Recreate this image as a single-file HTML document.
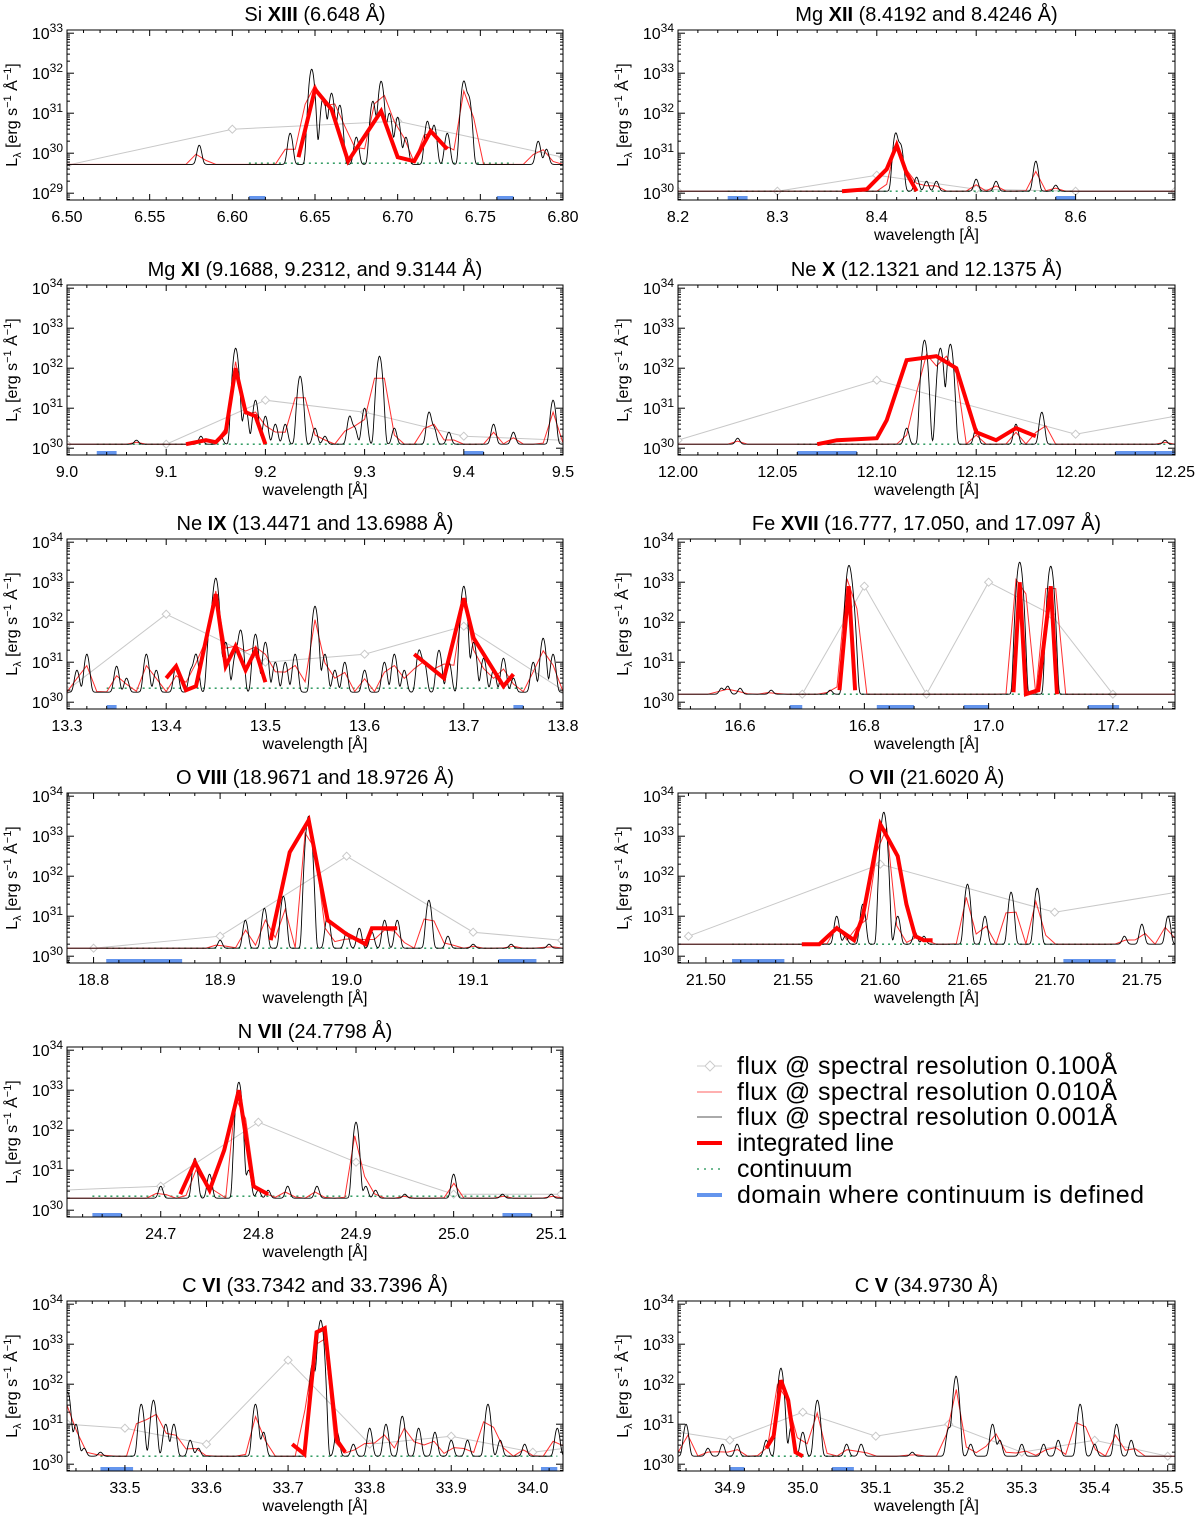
<!DOCTYPE html>
<html><head><meta charset="utf-8">
<style>
html,body{margin:0;padding:0;background:#fff;}
svg{display:block;font-family:"Liberation Sans",sans-serif;}
</style></head>
<body>
<svg id="fig" width="1200" height="1518" viewBox="0 0 1200 1518" xmlns="http://www.w3.org/2000/svg"></svg>
<script>
// ---- data (wavelength Å, log10 L) ----
const p1Peaks=[[6.58,30.2],[6.635,30.5],[6.648,32.1],[6.655,31.4],[6.66,31.5],[6.665,31.2],[6.675,30.4],[6.685,31.3],[6.69,31.8],[6.695,31.0],[6.70,30.9],[6.705,30.4],[6.718,30.8],[6.722,30.7],[6.73,30.5],[6.74,31.8],[6.743,31.4],[6.785,30.3],[6.79,30.1]];
const p1Thick=[[6.64,29.9],[6.65,31.6],[6.66,31.1],[6.67,29.8],[6.69,31.05],[6.70,29.9],[6.71,29.8],[6.72,30.55],[6.73,30.1]];
const p1Gray=[[6.5,29.7],[6.6,30.6],[6.7,30.8],[6.8,29.9]];
const p1Blue=[[6.61,6.62],[6.76,6.77]];

const p2Peaks=[[8.419,31.5],[8.424,31.2],[8.44,30.4],[8.45,30.3],[8.46,30.3],[8.5,30.35],[8.52,30.3],[8.56,30.8],[8.58,30.2]];
const p2Thick=[[8.365,30.05],[8.39,30.1],[8.41,30.6],[8.42,31.2],[8.43,30.5],[8.44,30.05]];
const p2Gray=[[8.2,30.05],[8.3,30.05],[8.4,30.45],[8.5,30.1],[8.6,30.05],[8.7,30.05]];
const p2Blue=[[8.25,8.27],[8.58,8.6]];

const p3Peaks=[[9.07,30.2],[9.135,30.3],[9.155,30.3],[9.17,32.5],[9.18,31.0],[9.19,31.2],[9.2,30.8],[9.21,30.6],[9.22,30.6],[9.235,31.8],[9.25,30.5],[9.26,30.3],[9.285,30.8],[9.29,30.5],[9.3,31.0],[9.315,32.3],[9.33,30.5],[9.365,30.9],[9.37,30.5],[9.385,30.4],[9.43,30.6],[9.45,30.4],[9.49,31.2]];
const p3Thick=[[9.12,30.1],[9.14,30.2],[9.15,30.15],[9.16,30.4],[9.17,32.0],[9.18,30.9],[9.19,30.8],[9.2,30.1]];
const p3Gray=[[9.0,30.1],[9.1,30.1],[9.2,31.2],[9.3,30.9],[9.4,30.3],[9.5,30.2]];
const p3Blue=[[9.03,9.05],[9.4,9.42]];

const p4Peaks=[[12.03,30.25],[12.115,30.5],[12.124,32.7],[12.132,32.5],[12.137,32.6],[12.15,30.5],[12.17,30.6],[12.183,30.9],[12.245,30.2]];
const p4Thick=[[12.07,30.1],[12.08,30.2],[12.1,30.25],[12.105,30.7],[12.115,32.2],[12.13,32.3],[12.14,32.0],[12.15,30.4],[12.16,30.2],[12.17,30.5],[12.18,30.3]];
const p4Gray=[[12.0,30.2],[12.1,31.7],[12.2,30.35],[12.25,30.8]];
const p4Blue=[[12.06,12.09],[12.22,12.25]];

const p5Peaks=[[13.31,30.8],[13.32,31.2],[13.35,30.9],[13.36,30.6],[13.38,31.2],[13.39,30.8],[13.41,30.9],[13.425,30.8],[13.43,31.2],[13.445,32.0],[13.45,33.1],[13.46,31.5],[13.47,31.2],[13.475,31.8],[13.49,31.7],[13.5,31.5],[13.51,31.0],[13.52,31.0],[13.53,31.2],[13.55,32.4],[13.56,31.2],[13.57,30.8],[13.58,31.0],[13.6,30.8],[13.62,31.0],[13.63,31.2],[13.64,30.8],[13.655,31.3],[13.66,31.0],[13.675,31.3],[13.685,31.0],[13.7,32.9],[13.71,31.5],[13.72,31.1],[13.73,30.8],[13.74,31.1],[13.75,30.6],[13.77,31.0],[13.78,31.6],[13.79,31.2]];
const p5Thick=[[13.4,30.6],[13.41,30.9],[13.42,30.3],[13.43,30.4],[13.45,32.7],[13.46,30.9],[13.47,31.4],[13.48,30.8],[13.49,31.3],[13.5,30.5],null,[13.65,31.2],[13.68,30.6],[13.7,32.6],[13.71,31.6],[13.73,30.8],[13.74,30.4],[13.75,30.7]];
const p5Gray=[[13.3,30.3],[13.4,32.2],[13.5,31.0],[13.6,31.2],[13.7,31.9],[13.8,30.3]];
const p5Blue=[[13.34,13.35],[13.75,13.76]];

const p6Peaks=[[16.57,30.35],[16.58,30.4],[16.6,30.35],[16.65,30.3],[16.745,30.3],[16.775,33.4],[16.78,32.6],[17.05,33.5],[17.1,33.4]];
const p6Thick=[[16.76,30.3],[16.775,32.9],[16.785,30.3],null,[17.04,30.25],[17.05,33.0],[17.06,30.2],[17.08,30.3],[17.1,32.9],[17.11,30.2]];
const p6Gray=[[16.7,30.2],[16.8,32.9],[16.9,30.2],[17.0,33.0],[17.1,32.2],[17.2,30.2]];
const p6Blue=[[16.68,16.7],[16.82,16.88],[16.96,17.0],[17.16,17.21]];

const p7Peaks=[[18.9,30.4],[18.92,30.9],[18.935,31.2],[18.95,31.5],[18.97,33.5],[18.985,31.0],[19.0,30.6],[19.01,30.7],[19.02,30.6],[19.03,30.9],[19.04,30.9],[19.065,31.4],[19.08,30.5],[19.1,30.3],[19.13,30.3],[19.16,30.3]];
const p7Thick=[[18.94,30.4],[18.955,32.6],[18.97,33.4],[18.985,30.9],[19.0,30.55],[19.015,30.3],[19.02,30.7],[19.04,30.7]];
const p7Gray=[[18.8,30.2],[18.9,30.5],[19.0,32.5],[19.1,30.6],[19.17,30.4]];
const p7Blue=[[18.81,18.87],[19.12,19.15]];

const p8Peaks=[[21.575,31.0],[21.58,30.5],[21.59,31.3],[21.602,33.6],[21.61,31.0],[21.62,30.6],[21.625,30.5],[21.65,31.8],[21.66,31.0],[21.675,31.6],[21.69,31.7],[21.74,30.5],[21.75,30.8],[21.765,31.0]];
const p8Thick=[[21.555,30.3],[21.565,30.3],[21.575,30.7],[21.585,30.4],[21.59,31.0],[21.6,33.3],[21.61,32.5],[21.615,31.3],[21.62,30.5],[21.625,30.4],[21.63,30.4]];
const p8Gray=[[21.49,30.5],[21.6,32.3],[21.7,31.1],[21.77,31.6]];
const p8Blue=[[21.515,21.545],[21.705,21.735]];

const p9Peaks=[[24.7,30.6],[24.735,31.3],[24.75,30.9],[24.78,33.2],[24.79,31.0],[24.8,30.5],[24.81,30.5],[24.83,30.6],[24.86,30.6],[24.9,32.2],[24.91,30.6],[24.92,30.5],[24.95,30.4],[25.0,30.9],[25.05,30.4],[25.1,30.4]];
const p9Thick=[[24.72,30.4],[24.735,31.2],[24.75,30.5],[24.765,31.5],[24.78,33.0],[24.795,30.6],[24.81,30.4]];
const p9Gray=[[24.6,30.5],[24.7,30.6],[24.8,32.2],[24.9,31.2],[25.0,30.4],[25.11,30.4]];
const p9Blue=[[24.63,24.66],[25.05,25.08]];

const p10Peaks=[[33.43,31.8],[33.44,31.0],[33.45,30.4],[33.47,30.3],[33.52,31.5],[33.535,31.6],[33.55,31.0],[33.56,31.0],[33.58,30.6],[33.59,30.4],[33.66,31.5],[33.67,30.8],[33.73,32.5],[33.74,33.6],[33.76,30.8],[33.78,30.5],[33.8,30.9],[33.82,31.0],[33.84,31.2],[33.86,30.9],[33.88,30.8],[33.9,30.6],[33.92,30.6],[33.945,31.5],[33.96,30.6],[33.99,30.5],[34.03,30.9]];
const p10Thick=[[33.705,30.5],[33.72,30.25],[33.735,33.3],[33.745,33.4],[33.76,30.6],[33.77,30.3]];
const p10Gray=[[33.43,31.0],[33.5,30.9],[33.6,30.5],[33.7,32.6],[33.8,30.5],[33.9,30.7],[34.0,30.3],[34.04,30.4]];
const p10Blue=[[33.47,33.51],[34.01,34.03]];

const p11Peaks=[[34.84,31.0],[34.87,30.4],[34.89,30.5],[34.91,30.5],[34.95,30.6],[34.97,32.4],[34.985,31.0],[35.0,30.8],[35.02,31.6],[35.06,30.5],[35.08,30.5],[35.15,30.3],[35.2,30.9],[35.21,32.2],[35.23,30.5],[35.26,31.0],[35.27,30.6],[35.3,30.5],[35.33,30.5],[35.35,30.6],[35.38,31.5],[35.4,30.5],[35.43,31.0],[35.45,30.6]];
const p11Thick=[[34.95,30.4],[34.96,30.7],[34.97,32.1],[34.98,31.6],[34.99,30.3],[35.0,30.2]];
const p11Gray=[[34.83,30.8],[34.9,30.6],[35.0,31.3],[35.1,30.7],[35.2,31.0],[35.3,30.3],[35.4,30.6],[35.5,30.2]];
const p11Blue=[[34.9,34.92],[35.04,35.07]];

const titlesEl=["Si","Mg","Mg","Ne","Ne","Fe","O","O","N","C","C"];
const titlesIon=["XIII","XII","XI","X","IX","XVII","VIII","VII","VII","VI","V"];
const titlesRest=["(6.648 Å)","(8.4192 and 8.4246 Å)","(9.1688, 9.2312, and 9.3144 Å)","(12.1321 and 12.1375 Å)","(13.4471 and 13.6988 Å)","(16.777, 17.050, and 17.097 Å)","(18.9671 and 18.9726 Å)","(21.6020 Å)","(24.7798 Å)","(33.7342 and 33.7396 Å)","(34.9730 Å)"];
const xMin=[6.5,8.2,9.0,12.0,13.3,16.5,18.779,21.484,24.604,33.429,34.829];
const xMax=[6.8,8.7,9.5,12.25,13.8,17.3,19.171,21.769,25.112,34.037,35.51];
const xTicks=[[6.5,6.55,6.6,6.65,6.7,6.75,6.8],[8.2,8.3,8.4,8.5,8.6],[9.0,9.1,9.2,9.3,9.4,9.5],[12.0,12.05,12.1,12.15,12.2,12.25],[13.3,13.4,13.5,13.6,13.7,13.8],[16.6,16.8,17.0,17.2],[18.8,18.9,19.0,19.1],[21.5,21.55,21.6,21.65,21.7,21.75],[24.7,24.8,24.9,25.0,25.1],[33.5,33.6,33.7,33.8,33.9,34.0],[34.9,35.0,35.1,35.2,35.3,35.4,35.5]];
const xTickLabels=[["6.50","6.55","6.60","6.65","6.70","6.75","6.80"],["8.2","8.3","8.4","8.5","8.6"],["9.0","9.1","9.2","9.3","9.4","9.5"],["12.00","12.05","12.10","12.15","12.20","12.25"],["13.3","13.4","13.5","13.6","13.7","13.8"],["16.6","16.8","17.0","17.2"],["18.8","18.9","19.0","19.1"],["21.50","21.55","21.60","21.65","21.70","21.75"],["24.7","24.8","24.9","25.0","25.1"],["33.5","33.6","33.7","33.8","33.9","34.0"],["34.9","35.0","35.1","35.2","35.3","35.4","35.5"]];
const baseLevel=[29.72,30.05,30.1,30.1,30.25,30.2,30.2,30.3,30.3,30.2,30.2];
const contLevel=[29.75,30.05,30.1,30.1,30.35,30.2,30.2,30.3,30.35,30.2,30.2];
const yLo=[28.83,29.83,29.83,29.83,29.83,29.83,29.83,29.83,29.83,29.83,29.83];
const yDecades=[[29,30,31,32,33],[30,31,32,33,34],[30,31,32,33,34],[30,31,32,33,34],[30,31,32,33,34],[30,31,32,33,34],[30,31,32,33,34],[30,31,32,33,34],[30,31,32,33,34],[30,31,32,33,34],[30,31,32,33,34]];
const peaksAll=[p1Peaks,p2Peaks,p3Peaks,p4Peaks,p5Peaks,p6Peaks,p7Peaks,p8Peaks,p9Peaks,p10Peaks,p11Peaks];
const thickAll=[p1Thick,p2Thick,p3Thick,p4Thick,p5Thick,p6Thick,p7Thick,p8Thick,p9Thick,p10Thick,p11Thick];
const grayAll=[p1Gray,p2Gray,p3Gray,p4Gray,p5Gray,p6Gray,p7Gray,p8Gray,p9Gray,p10Gray,p11Gray];
const blueAll=[p1Blue,p2Blue,p3Blue,p4Blue,p5Blue,p6Blue,p7Blue,p8Blue,p9Blue,p10Blue,p11Blue];
const legendLabels=["flux @ spectral resolution 0.100Å","flux @ spectral resolution 0.010Å","flux @ spectral resolution 0.001Å","integrated line","continuum","domain where continuum is defined"];

const NS="http://www.w3.org/2000/svg";
const svg=document.getElementById('fig');
function mk(tag,attrs,parent){const e=document.createElementNS(NS,tag);for(const k in attrs)e.setAttribute(k,attrs[k]);(parent||svg).appendChild(e);return e;}

const rowTops=[30,285,539,793,1047,1301];
const PH=170, DEC=40;
for(let i=0;i<11;i++){
  const r=i<9?Math.floor(i/2):5;
  const col=i<9?i%2:(i===9?0:1);
  const L=col===0?67:678, R=col===0?563:1175;
  const T=rowTops[r], B=T+PH;
  const g=mk('g',{});
  
  
  const xs=x=>L+(x-xMin[i])/(xMax[i]-xMin[i])*(R-L);
  const ys=v=>B-(v-yLo[i])*DEC;
  const cp=mk('clipPath',{id:'c'+i},g);mk('rect',{x:L,y:T,width:R-L,height:PH},cp);
  const plot=mk('g',{'clip-path':'url(#c'+i+')'},g);
  const sb=2.0, base=Math.pow(10,baseLevel[i]);
  const pk=peaksAll[i];
  function val(px,s){let v=base;for(const p of pk){const d=px-xs(p[0]);const A=Math.pow(10,p[1])-base;v+=A*(sb/s)*Math.exp(-d*d/(2*s*s));}return v;}
  let d='';for(let px=L;px<=R;px+=0.5){d+=(px===L?'M':'L')+px.toFixed(1)+','+ys(Math.log10(val(px,sb))).toFixed(1);}
  const step=(R-L)/50;let dr='';
  for(let k=0;k<=50;k++){const px=L+k*step;let s=0;for(let q=-5;q<=5;q++)s+=val(px+q*step/10,sb);s/=11;dr+=(k?'L':'M')+px.toFixed(1)+','+ys(Math.log10(s)).toFixed(1);}
  const gr=grayAll[i];let dg='';gr.forEach((p,k)=>{dg+=(k?'L':'M')+xs(p[0]).toFixed(1)+','+ys(p[1]).toFixed(1);});
  const ge=mk('path',{d:dg,fill:'none',stroke:'#c8c8c8','stroke-width':1},plot);
  
  gr.forEach(p=>{const cx=xs(p[0]),cy=ys(p[1]);const m=mk('path',{d:`M${cx-4},${cy}L${cx},${cy-4}L${cx+4},${cy}L${cx},${cy+4}Z`,fill:'#fff',stroke:'#c8c8c8','stroke-width':1},plot);
    });
  const bl=blueAll[i];
  const ce=mk('line',{x1:xs(bl[0][0]),x2:xs(bl[bl.length-1][1]),y1:ys(contLevel[i]),y2:ys(contLevel[i]),stroke:'#1a9050','stroke-width':1.3,'stroke-dasharray':'2,4'},plot);
  
  const re=mk('path',{d:dr,fill:'none',stroke:'#ff3030','stroke-width':1},plot);
  
  const be=mk('path',{d:d,fill:'none',stroke:'#000','stroke-width':0.9},plot);
  
  let dt='',start=true;thickAll[i].forEach(p=>{if(!p){start=true;return;}dt+=(start?'M':'L')+xs(p[0]).toFixed(1)+','+ys(p[1]).toFixed(1);start=false;});
  const te=mk('path',{d:dt,fill:'none',stroke:'#f00','stroke-width':4,'stroke-linejoin':'miter'},plot);
  
  bl.forEach(b=>{const e=mk('rect',{x:xs(b[0]),y:B-4,width:xs(b[1])-xs(b[0]),height:4,fill:'#6495ed'},plot);
    });
  const fr=mk('rect',{x:L,y:T,width:R-L,height:PH,fill:'none',stroke:'#000','stroke-width':1},g);
  
  const xt=xTicks[i];
  const sp=xt[1]-xt[0];
  for(let v=xt[0]-sp;v<=xMax[i]+1e-9;v+=sp/5){if(v<xMin[i]-1e-9)continue;const px=xs(v);const major=xt.some(t=>Math.abs(t-v)<1e-6);const len=major?6:3;
    mk('line',{x1:px,x2:px,y1:B,y2:B-len,stroke:'#000','stroke-width':1},g);mk('line',{x1:px,x2:px,y1:T,y2:T+len,stroke:'#000','stroke-width':1},g);}
  xt.forEach((v,k)=>{const t=mk('text',{x:xs(v),y:B+22,'font-size':16,'text-anchor':'middle'},g);t.textContent=xTickLabels[i][k];
    });
  if(i!==0){const t=mk('text',{x:(L+R)/2,y:B+40,'font-size':16,'text-anchor':'middle'},g);t.textContent='wavelength [Å]';
    }
  yDecades[i].forEach(dd=>{const py=ys(dd);
    mk('line',{x1:L,x2:L+7,y1:py,y2:py,stroke:'#000'},g);mk('line',{x1:R,x2:R-7,y1:py,y2:py,stroke:'#000'},g);
    for(let m=2;m<10;m++){const pm=ys(dd-1+Math.log10(m));if(pm<B&&pm>T){mk('line',{x1:L,x2:L+3,y1:pm,y2:pm,stroke:'#000'},g);mk('line',{x1:R,x2:R-3,y1:pm,y2:pm,stroke:'#000'},g);}}
    const t=mk('text',{x:L-4,y:py+6,'font-size':16,'text-anchor':'end'},g);
    
    const a=mk('tspan',{},t);a.textContent='10';const b=mk('tspan',{dy:-7,'font-size':12},t);b.textContent=String(dd);});
  const yl=mk('text',{transform:`translate(${L-50},${(T+B)/2}) rotate(-90)`,'font-size':16,'text-anchor':'middle'},g);
  
  yl.innerHTML='<tspan>L</tspan><tspan font-size="11" dy="4">λ</tspan><tspan dy="-4"> [erg s</tspan><tspan font-size="11" dy="-6">−1</tspan><tspan dy="6"> Å</tspan><tspan font-size="11" dy="-6">−1</tspan><tspan dy="6">]</tspan>';
  const tt=mk('text',{x:(L+R)/2,y:T-9,'font-size':20,'text-anchor':'middle'},g);
  
  const s1=mk('tspan',{},tt);s1.textContent=titlesEl[i]+' ';
  const s2=mk('tspan',{'font-weight':'bold'},tt);s2.textContent=titlesIon[i];
  const s3=mk('tspan',{},tt);s3.textContent=' '+titlesRest[i];
}
const lg=mk('g',{});

const ly=[1066,1092,1117,1143,1169,1195];
legendLabels.forEach((s,k)=>{
  const y=ly[k];
  const ent=mk('g',{},lg);
  
  if(k===0){mk('line',{x1:697,x2:722,y1:y,y2:y,stroke:'#ccc'},ent);mk('path',{d:`M705,${y}L710,${y-5}L715,${y}L710,${y+5}Z`,fill:'#fff',stroke:'#ccc'},ent);}
  if(k===1)mk('line',{x1:697,x2:722,y1:y,y2:y,stroke:'#ff8080','stroke-width':1.2},ent);
  if(k===2)mk('line',{x1:697,x2:722,y1:y,y2:y,stroke:'#777','stroke-width':1.2},ent);
  if(k===3)mk('line',{x1:697,x2:722,y1:y,y2:y,stroke:'#f00','stroke-width':4},ent);
  if(k===4)mk('line',{x1:697,x2:722,y1:y,y2:y,stroke:'#1a9050','stroke-width':1.3,'stroke-dasharray':'2,5'},ent);
  if(k===5)mk('line',{x1:697,x2:722,y1:y,y2:y,stroke:'#6495ed','stroke-width':4},ent);
  const t=mk('text',{x:737,y:y+8,'font-size':25,'textLength':k===5?407:(k<3?380:null)},ent);
  if(k===3||k===4)t.removeAttribute('textLength');
  t.textContent=s;
});
</script>
</body></html>
